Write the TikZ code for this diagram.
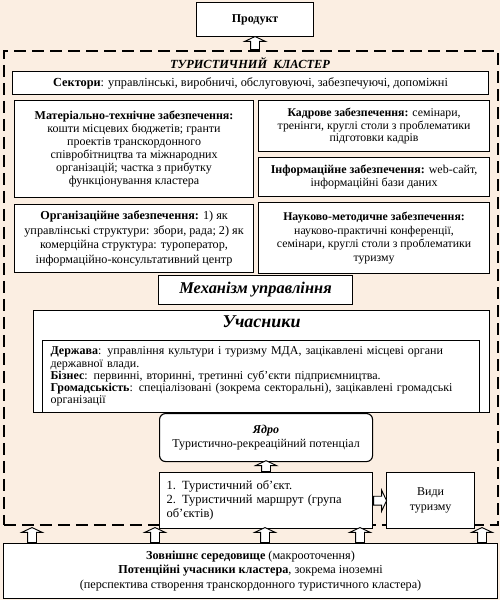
\documentclass[tikz,border=0pt]{standalone}
\usepackage{fontspec}
\setmainfont{Liberation Serif}
\usetikzlibrary{positioning, shapes.arrows, calc}
\definecolor{clusterbg}{RGB}{251,238,226}
\newcommand{\fsz}[2]{\fontsize{#1}{#2}\selectfont}
\tikzset{
    box/.style={rectangle, draw, line width=1.1pt, fill=white, align=center, inner xsep=4pt, inner ysep=2pt, font=\fsz{12}{13.2}},
    leftbox/.style={box, align=left},
    corebox/.style={box, rounded corners=6pt},
    headbox/.style={box, font=\fsz{16.4}{18}\bfseries\itshape},
    clusterframe/.style={rectangle, draw, line width=1.7pt, dash pattern=on 12pt off 6pt, inner sep=0pt},
    hollow/.style={single arrow, draw, fill=white, line width=0.9pt, anchor=tail, inner sep=4pt, single arrow head extend=6pt, single arrow tip angle=130, single arrow head indent=0pt},
    uparrow/.style={hollow, rotate=90},
}

\begin{document}
\begin{tikzpicture}[x=1pt, y=-1pt]

    \fill[clusterbg] (0,0) rectangle (500,600);
    \useasboundingbox (0,0) rectangle (500,600);

    % === CLUSTER FRAME ===
    \node[clusterframe, minimum width=494pt, minimum height=474pt, anchor=north west] (cluster) at (3,50) {};
    \node[font=\fsz{12.4}{14}\bfseries\itshape] (clusterTitle) at (250,63) {ТУРИСТИЧНИЙ\ \ КЛАСТЕР};

    \node[box, minimum width=117pt, minimum height=34pt, anchor=north west] (product) at (196,2) {\textbf{Продукт}};
    \node[uparrow, minimum height=13pt] (toProduct) at (product.south |- cluster.north) {};

    \node[box, font=\fsz{12.3}{14}, minimum width=476pt, minimum height=23pt, anchor=north west] (sectors) at (12,71)
        {\textbf{Сектори}: управлінські, виробничі, обслуговуючі, забезпечуючі, допоміжні};

    % === SUPPORT ===
    \node[box, font=\fsz{12}{13}, minimum width=239pt, minimum height=97pt, anchor=north west] (matTech) at (14,100)
        {\textbf{Матеріально-технічне забезпечення:}\\кошти місцевих бюджетів; гранти\\проектів транскордонного\\співробітництва та міжнародних\\організацій; частка з прибутку\\функціонування кластера};
    \node[box, font=\fsz{12.2}{14.5}, minimum width=239pt, minimum height=68pt, below=6pt of matTech] (orgSupp)
        {\textbf{Організаційне забезпечення:} 1) як\\управлінські структури: збори, рада; 2) як\\комерційна структура: туроператор,\\інформаційно-консультативний центр};

    \node[box, font=\fsz{11.8}{12.5}, minimum width=231pt, minimum height=51pt, anchor=north west] (staff) at (258,100)
        {\textbf{Кадрове забезпечення:} семінари,\\тренінги, круглі столи з проблематики\\підготовки кадрів};
    \node[box, minimum width=231pt, minimum height=39pt, below=5pt of staff] (info)
        {\textbf{Інформаційне забезпечення:} web-сайт,\\інформаційні бази даних};
    \node[box, font=\fsz{11.8}{13.5}, minimum width=231pt, minimum height=71pt, below=5pt of info] (science)
        {\textbf{Науково-методичне забезпечення:}\\науково-практичні конференції,\\семінари, круглі столи з проблематики\\туризму};

    \node[headbox, minimum width=194pt, minimum height=29pt, anchor=north west] (mech) at (158,275) {Механізм управління};

    % === PARTICIPANTS ===
    \node[box, minimum width=456pt, minimum height=102pt, anchor=north west] (parts) at (33,310) {};
    \node[font=\fsz{18}{20}\bfseries\itshape, below=2pt of parts.north] (partsTitle) {Учасники};
    \node[leftbox, font=\fsz{12}{12.2}, minimum width=437pt, minimum height=72pt, text width=421pt, inner xsep=8pt, anchor=south west] (partsList) at (parts.south west -| 42,0)
        {\textbf{Держава}: управління культури і туризму МДА, зацікавлені місцеві органи\\державної влади.\\\textbf{Бізнес}: первинні, вторинні, третинні суб’єкти підприємництва.\\\textbf{Громадськість}: спеціалізовані (зокрема секторальні), зацікавлені громадські\\організації};

    % === CORE ===
    \node[corebox, minimum width=213pt, minimum height=48pt, anchor=north west] (core) at (159,413)
        {\textbf{\textit{Ядро}}\\Туристично-рекреаційний потенціал};
    \node[leftbox, font=\fsz{12.5}{14}, minimum width=213pt, minimum height=56pt, text width=199pt, inner xsep=7pt, below=10pt of core] (objects)
        {1. Туристичний об’єкт.\\2. Туристичний маршрут (група\\об’єктів)};
    \node[uparrow, minimum height=10pt] (toCore) at (objects.north) {};
    \node[box, font=\fsz{12}{15}, minimum width=88pt, minimum height=56pt, right=13pt of objects] (types) {Види\\туризму};
    \node[hollow, minimum height=13pt] (toTypes) at (objects.east) {};

    % === ENVIRONMENT ===
    \node[box, minimum width=494pt, minimum height=55pt, anchor=north west, font=\fsz{12.2}{14.5}] (env) at (3,543)
        {\textbf{Зовнішнє середовище} (макрооточення)\\\textbf{Потенційні учасники кластера}, зокрема іноземні\\(перспектива створення транскордонного туристичного кластера)};
    \foreach \ax in {29,152,262,357,479}
        \node[uparrow, minimum height=15pt] (envUp\ax) at ([xshift=\ax pt]env.north west) {};

\end{tikzpicture}
\end{document}
